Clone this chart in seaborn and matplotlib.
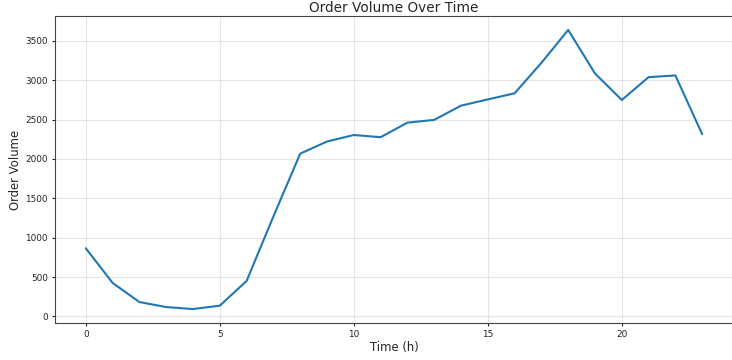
import matplotlib
matplotlib.use("Agg")
import matplotlib.pyplot as plt
import seaborn as sns
import pandas as pd

hours = list(range(24))
order_volume = [865, 425, 182, 118, 93, 136, 450, 1270, 2068, 2222, 2305, 2277,
                2462, 2497, 2678, 2757, 2835, 3222, 3640, 3087, 2750, 3040, 3062, 2315]

df = pd.DataFrame({"Time (h)": hours, "Order Volume": order_volume})

sns.set_style("ticks")
fig = plt.figure(figsize=(7.32, 3.6), dpi=100)
ax = fig.add_axes([55 / 732, 1 - 323 / 360, (733 - 55) / 732, (323 - 16) / 360])
sns.lineplot(data=df, x="Time (h)", y="Order Volume", ax=ax, color="#1f77b4", linewidth=1.5)
ax.grid(True, color="#cccccc", alpha=0.5, linewidth=0.8)
ax.set_title("Order Volume Over Time", fontsize=9.8, pad=3)
ax.set_xlabel("Time (h)", fontsize=8.4, labelpad=1.5)
ax.set_ylabel("Order Volume", fontsize=8.4, labelpad=2.5)
ax.tick_params(labelsize=6.4, colors="#222222", length=2.5, pad=2.5)
for s in ax.spines.values():
    s.set_color("#444444")
ax.set_xticks([0, 5, 10, 15, 20])
ax.set_yticks([0, 500, 1000, 1500, 2000, 2500, 3000, 3500])
fig.savefig("out.png", dpi=100)
